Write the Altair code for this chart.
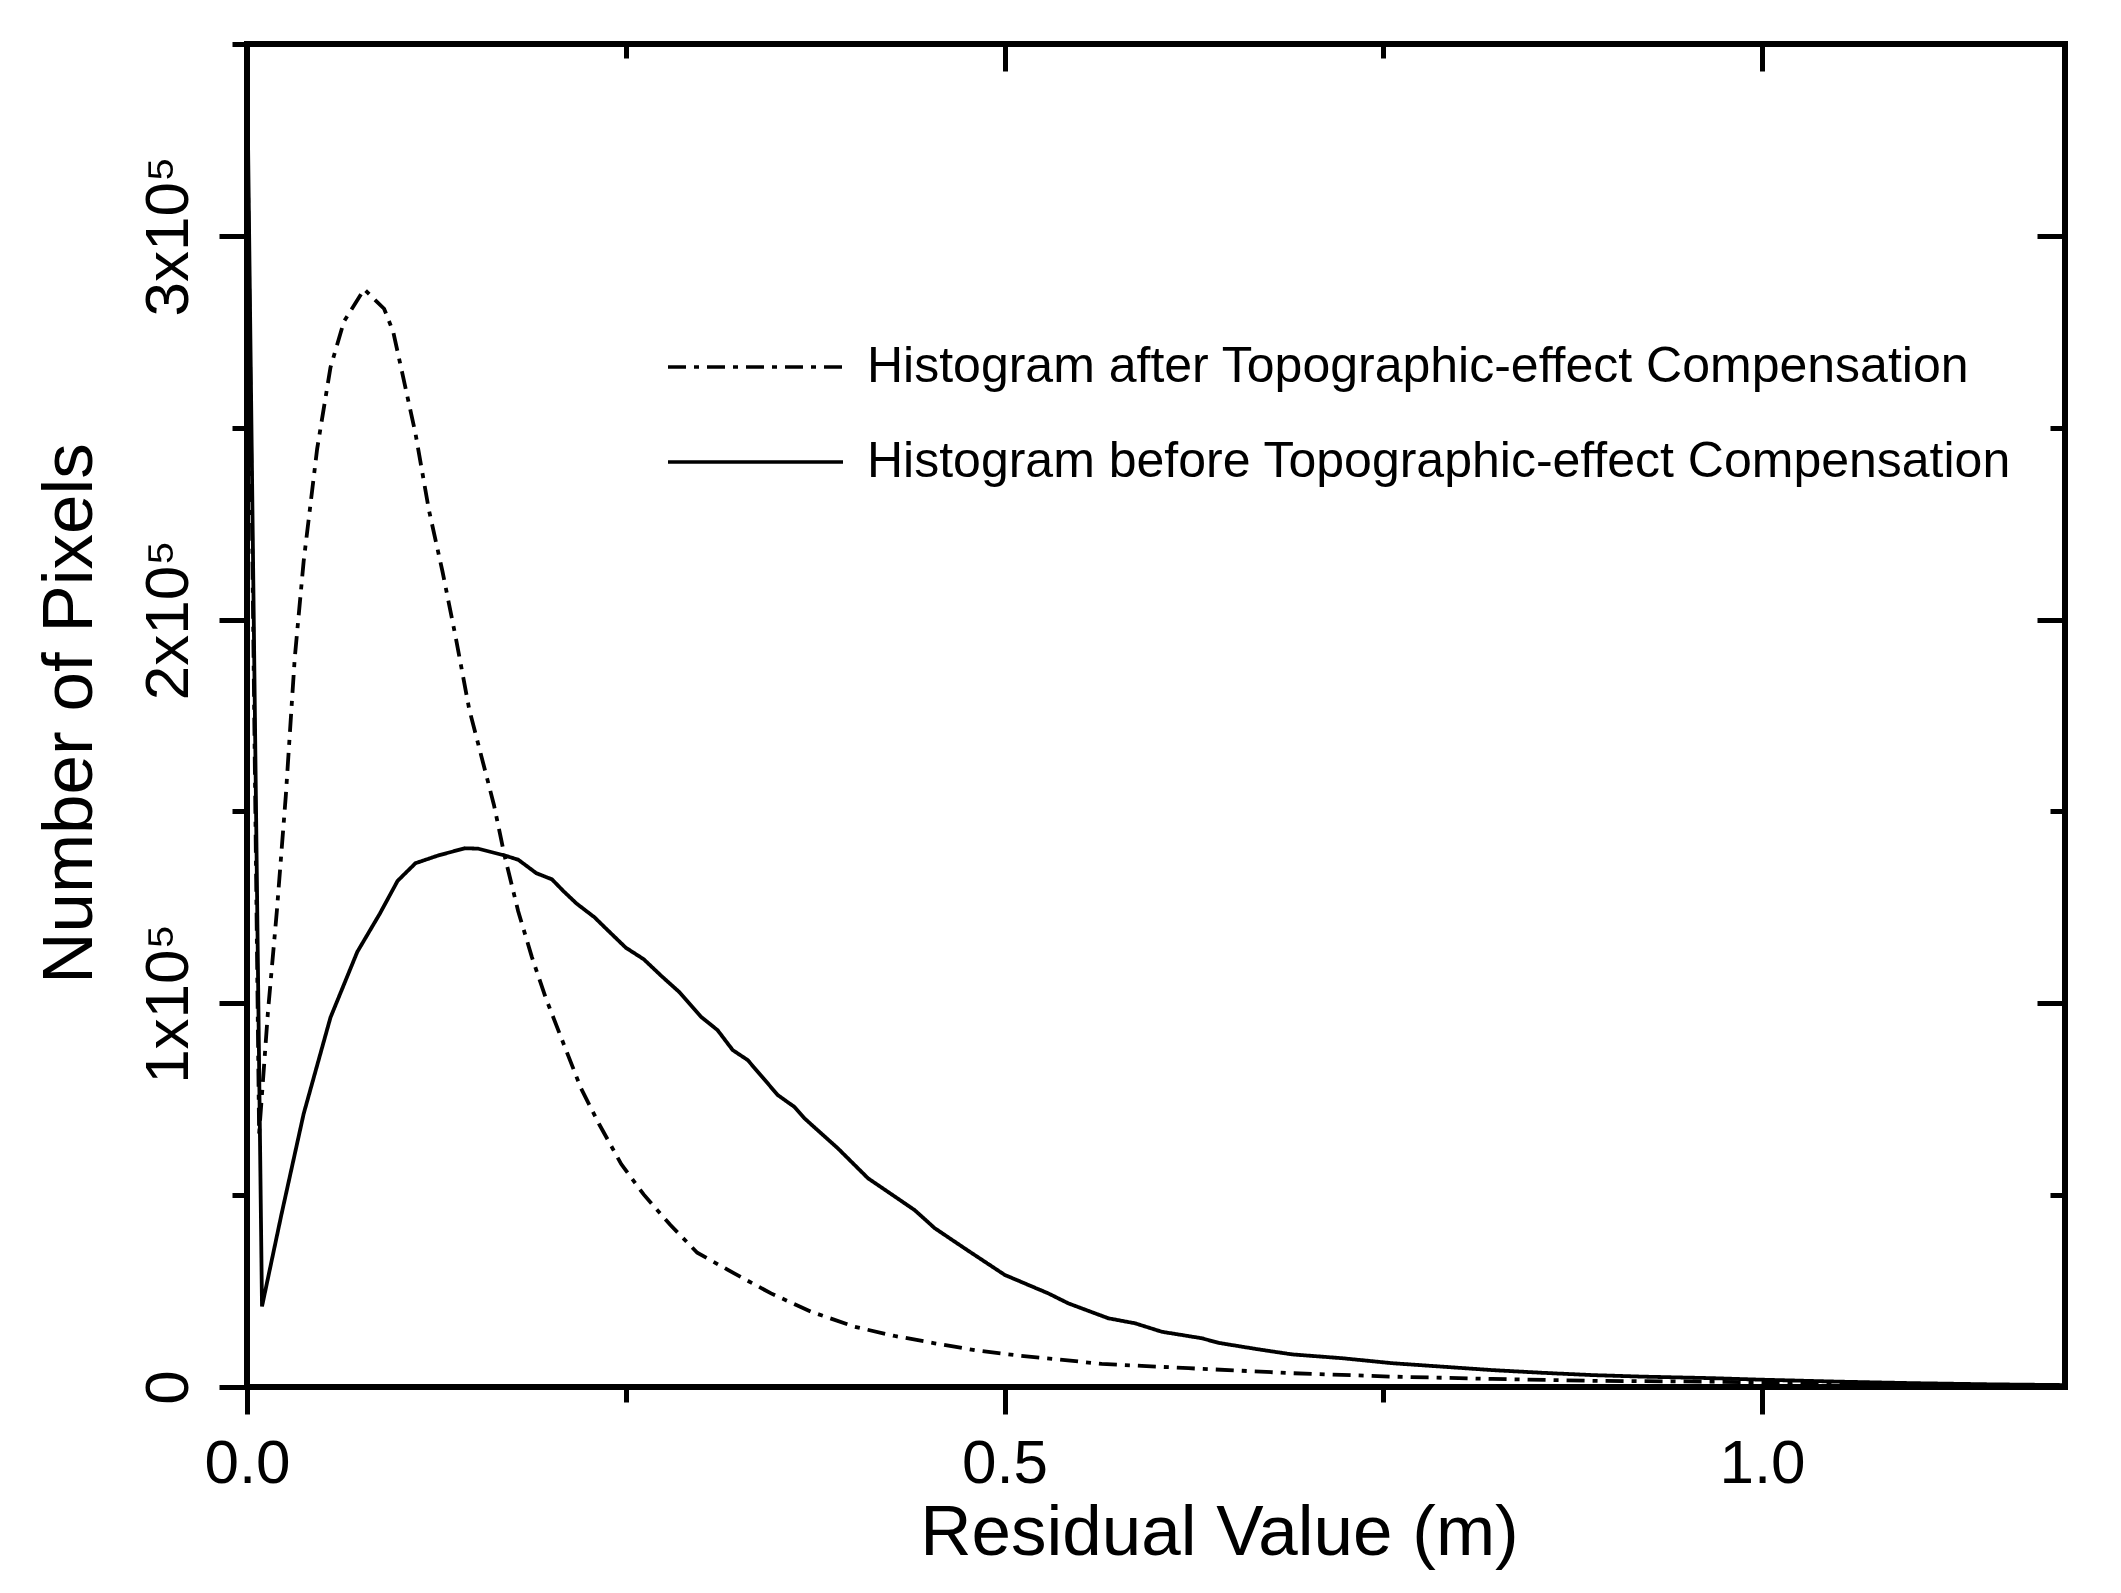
import altair as alt
import pandas as pd

# ---- data ----
before_x = [0.0, 0.0099, 0.0227, 0.0374, 0.0551, 0.0728, 0.0876, 0.0994, 0.1112, 0.126,
            0.1437, 0.1526, 0.1703, 0.1791, 0.191, 0.2013, 0.2087, 0.2175, 0.2294, 0.2382,
            0.25, 0.2618, 0.2736, 0.2854, 0.2996, 0.3106, 0.3206, 0.3305, 0.3503, 0.3613,
            0.368, 0.390, 0.4099, 0.4407, 0.4539, 0.4738, 0.5002, 0.5289, 0.5421, 0.5686,
            0.5862, 0.6038, 0.6303, 0.6413, 0.6678, 0.6898, 0.7229, 0.756, 0.789, 0.8221,
            0.8552, 0.8882, 0.9213, 0.9676, 1.0, 1.05, 1.1, 1.15, 1.2]
before_y = [347000, 21000, 44900, 71200, 96300, 113400, 123300, 131900, 136500, 138500,
            140400, 140300, 138500, 137400, 133900, 132300, 129300, 126000, 122400, 119000,
            114500, 111500, 107100, 102900, 96500, 93000, 87800, 85200, 76100, 73000,
            70000, 62200, 54400, 46100, 41400, 36100, 29200, 24400, 21800, 17900,
            16600, 14400, 12700, 11500, 9800, 8500, 7500, 6200, 5300, 4400,
            3700, 3100, 2700, 2300, 1900, 1400, 1000, 700, 500]

after_x = [0.0, 0.008, 0.0138, 0.0197, 0.0256, 0.0315, 0.0374, 0.0463, 0.0551, 0.064,
           0.0773, 0.0905, 0.0965, 0.1024, 0.1112, 0.1201, 0.129, 0.1378, 0.1467, 0.163,
           0.170, 0.179, 0.188, 0.197, 0.2087, 0.2205, 0.2323, 0.247, 0.2618, 0.2795,
           0.2972, 0.3216, 0.3459, 0.3724, 0.401, 0.4275, 0.4539, 0.4804, 0.5068, 0.5355,
           0.5642, 0.5906, 0.6215, 0.69, 0.756, 0.822, 0.888, 0.968, 1.05, 1.1, 1.15, 1.2]
after_y = [337000, 66000, 97600, 124000, 154000, 189900, 215200, 244500, 265700, 277700,
           286100, 281000, 275000, 264400, 248500, 228500, 212600, 195300, 176600, 151700,
           138500, 124000, 112100, 101600, 89700, 77800, 68600, 58100, 50200, 42200,
           35000, 29600, 24400, 19600, 15700, 13300, 11400, 9600, 8300, 7200,
           6000, 5500, 4900, 3600, 2700, 2100, 1600, 1400, 800, 500, 300, 200]

series_after = "Histogram after Topographic-effect Compensation"
series_before = "Histogram before Topographic-effect Compensation"

x_major = [0.0, 0.5, 1.0]
x_minor = [0.25, 0.75]
y_major = [0, 100000, 200000, 300000]
y_minor = [50000, 150000, 250000, 350000]

df = pd.concat([
    pd.DataFrame({"x": after_x, "y": after_y, "series": series_after}),
    pd.DataFrame({"x": before_x, "y": before_y, "series": series_before}),
], ignore_index=True)

FONT = "Liberation Sans"
xscale = alt.Scale(domain=[0, 1.2], nice=False, zero=False)
yscale = alt.Scale(domain=[0, 350000], nice=False)

def tick_axis(orient, values, size, offset=0):
    return alt.Axis(orient=orient, values=values, tickSize=size, tickWidth=5,
                    tickColor="black", domain=False, labels=False, title=None,
                    grid=False, offset=offset)

x_main_axis = alt.Axis(
    orient="bottom", values=x_major, tickSize=27, tickWidth=5, tickColor="black",
    domain=False, grid=False, format=".1f", labelFont=FONT, labelFontSize=62,
    labelColor="black", labelPadding=19, labelFlush=False, labelOverlap=False,
    title="Residual Value (m)", titleFont=FONT, titleFontSize=71,
    titleFontWeight="normal", titleColor="black", titleX=972, titleY=167,
    titleAlign="center", titleBaseline="alphabetic", titleAngle=0)

y_main_axis = alt.Axis(
    orient="left", values=y_major, tickSize=28, tickWidth=5, tickColor="black",
    domain=False, grid=False,
    labelExpr="datum.value == 0 ? '0' : format(datum.value / 100000, 'd') + 'x10\u2075'",
    labelFont=FONT, labelFontSize=62, labelColor="black", labelPadding=19,
    labelAngle=270, labelAlign="center", labelBaseline="bottom",
    labelFlush=False, labelOverlap=False,
    title="Number of Pixels", titleFont=FONT, titleFontSize=71,
    titleFontWeight="normal", titleColor="black", titleX=-156, titleY=669,
    titleAngle=270, titleAlign="center", titleBaseline="alphabetic")

lines = alt.Chart(df).mark_line(color="black", strokeWidth=3.8).encode(
    x=alt.X("x:Q", scale=xscale, axis=x_main_axis),
    y=alt.Y("y:Q", scale=yscale, axis=y_main_axis),
    strokeDash=alt.StrokeDash(
        "series:N",
        sort=[series_after, series_before],
        scale=alt.Scale(domain=[series_after, series_before],
                        range=[[18, 8, 5, 8], [1, 0]]),
        legend=alt.Legend(
            orient="none", legendX=419, legendY=293, title=None, padding=0,
            symbolType="stroke", symbolSize=30625, symbolStrokeWidth=3.5,
            symbolStrokeColor="black", clipHeight=60, rowPadding=35,
            labelFont=FONT, labelFontSize=50, labelColor="black",
            labelOffset=22, labelLimit=0, labelBaseline="middle"),
    ),
    order=alt.Order("x:Q"),
)

def ghost(xaxis, yaxis):
    return alt.Chart(df).mark_line(opacity=0).encode(
        x=alt.X("x:Q", scale=xscale, axis=xaxis),
        y=alt.Y("y:Q", scale=yscale, axis=yaxis),
        detail="series:N",
    )

minor_bl = ghost(tick_axis("bottom", x_minor, 15), tick_axis("left", y_minor, 15))
major_tr = ghost(tick_axis("top", x_major, 27, -27), tick_axis("right", y_major, 28, -28))
minor_tr = ghost(tick_axis("top", x_minor, 14, -14), tick_axis("right", y_minor, 15, -15))

chart = alt.layer(lines, minor_bl, major_tr, minor_tr).resolve_axis(
    x="independent", y="independent"
).properties(
    width=1818, height=1343,
    autosize=alt.AutoSizeParams(type="none"),
    padding={"left": 239, "top": 36, "right": 26, "bottom": 196},
    background="white",
).configure_view(stroke="black", strokeWidth=6)

chart.save("out.html", embed_options={"renderer": "svg", "actions": False})
